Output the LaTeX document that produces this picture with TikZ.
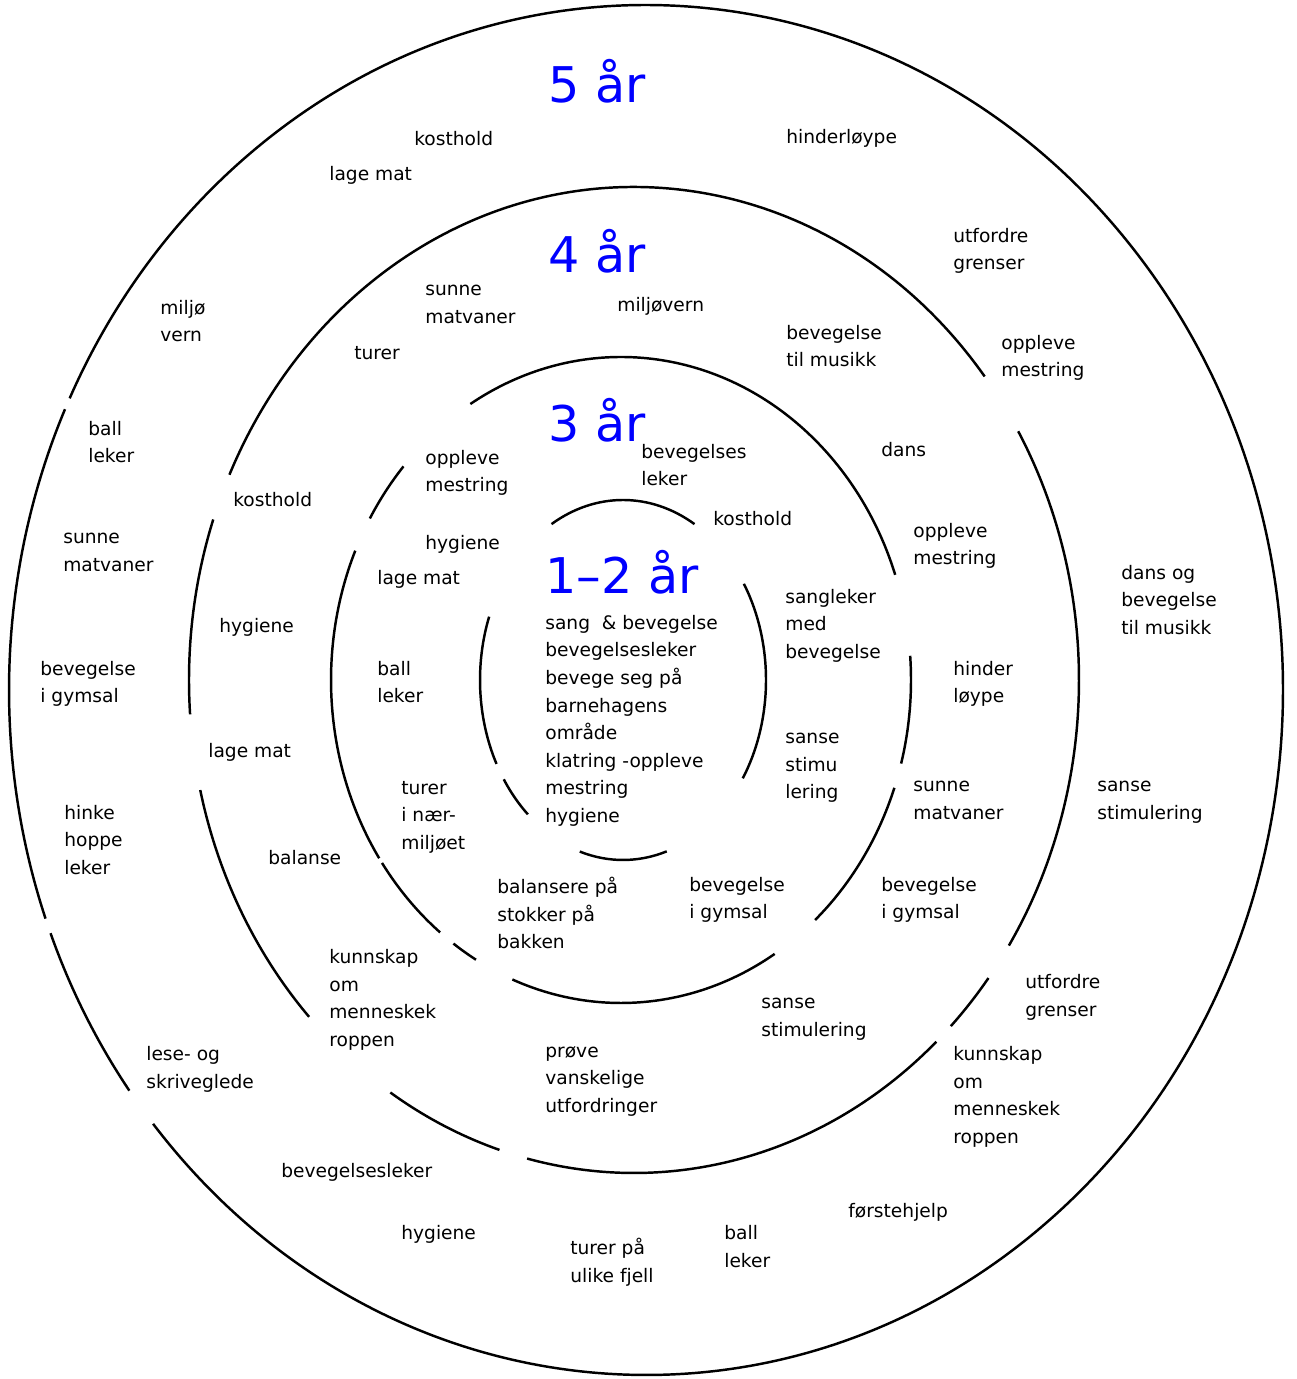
\documentclass[tikz,border=0pt]{standalone}
\usepackage{fontspec}
\setmainfont{DejaVu Sans}
\usepackage{tikz}
\usepackage{xcolor}

\begin{document}
\begin{tikzpicture}[x=0.2mm,y=0.2mm,
  ring/.style={line width=1.4pt},
  lbl/.style={anchor=north west, inner sep=0pt, align=left,
    font=\fontsize{10.6}{15.65}\selectfont,
    execute at begin node={\rule{0pt}{11pt}}},
  age/.style={anchor=base west, inner sep=0pt, blue,
    font=\fontsize{28}{34}\selectfont}]
\useasboundingbox (0,0) rectangle (1296,1379);
\fill [white] (0,0) rectangle (1296,1379);

% centres of the rings
\coordinate (c5) at (646,689);
\coordinate (c4) at (634,699);
\coordinate (c3) at (621,699);
\coordinate (c1) at (623,699);

% 5 aar
\draw [ring] (c5) ++(219.3:637 and 685) arc[start angle=219.3, end angle=514.8, x radius=637, y radius=685];
\draw [ring] (c5) ++(155.8:637 and 685) arc[start angle=155.8, end angle=199.5, x radius=637, y radius=685];
\draw [ring] (c5) ++(200.8:637 and 685) arc[start angle=200.8, end angle=215.8, x radius=637, y radius=685];
% 4 aar
\draw [ring] (c4) ++(38:445 and 493) arc[start angle=38, end angle=155.4, x radius=445, y radius=493];
\draw [ring] (c4) ++(161:445 and 493) arc[start angle=161, end angle=184, x radius=445, y radius=493];
\draw [ring] (c4) ++(192.9:445 and 493) arc[start angle=192.9, end angle=223.1, x radius=445, y radius=493];
\draw [ring] (c4) ++(236.8:445 and 493) arc[start angle=236.8, end angle=252.4, x radius=445, y radius=493];
\draw [ring] (c4) ++(256.1:445 and 493) arc[start angle=256.1, end angle=312.8, x radius=445, y radius=493];
\draw [ring] (c4) ++(315.4:445 and 493) arc[start angle=315.4, end angle=322.8, x radius=445, y radius=493];
\draw [ring] (c4) ++(327.4:445 and 493) arc[start angle=327.4, end angle=390.3, x radius=445, y radius=493];
% 3 aar
\draw [ring] (c3) ++(19:290 and 323) arc[start angle=19, end angle=121.3, x radius=290, y radius=323];
\draw [ring] (c3) ++(138.6:290 and 323) arc[start angle=138.6, end angle=150, x radius=290, y radius=323];
\draw [ring] (c3) ++(156.4:290 and 323) arc[start angle=156.4, end angle=213.5, x radius=290, y radius=323];
\draw [ring] (c3) ++(214.5:290 and 323) arc[start angle=214.5, end angle=231.4, x radius=290, y radius=323];
\draw [ring] (c3) ++(234.7:290 and 323) arc[start angle=234.7, end angle=240, x radius=290, y radius=323];
\draw [ring] (c3) ++(248:290 and 323) arc[start angle=248, end angle=302, x radius=290, y radius=323];
\draw [ring] (c3) ++(312:290 and 323) arc[start angle=312, end angle=340.5, x radius=290, y radius=323];
\draw [ring] (c3) ++(345:290 and 323) arc[start angle=345, end angle=364.3, x radius=290, y radius=323];
% 1-2 aar
\draw [ring] (c1) ++(60:143 and 180) arc[start angle=60, end angle=120, x radius=143, y radius=180];
\draw [ring] (c1) ++(159.4:143 and 180) arc[start angle=159.4, end angle=207.8, x radius=143, y radius=180];
\draw [ring] (c1) ++(213.5:143 and 180) arc[start angle=213.5, end angle=228.3, x radius=143, y radius=180];
\draw [ring] (c1) ++(252.4:143 and 180) arc[start angle=252.4, end angle=287.8, x radius=143, y radius=180];
\draw [ring] (c1) ++(326.9:143 and 180) arc[start angle=326.9, end angle=392.3, x radius=143, y radius=180];

% titles
\node [age] (t5) at (548,1276) {5 år};
\node [age] (t4) at (548,1106) {4 år};
\node [age] (t3) at (548,937) {3 år};
\node [age] (t1) at (545,785) {1–2 år};

% 5 aar ring
\node [lbl] (a1) at (414,1253) {kosthold};
\node [lbl] (a2) at (329,1218) {lage mat};
\node [lbl] (a3) at (786,1255) {hinderløype};
\node [lbl] (a4) at (953,1151) {utfordre\\grenser};
\node [lbl] (a5) at (160,1079) {miljø\\vern};
\node [lbl] (a6) at (1001,1044) {oppleve\\mestring};
\node [lbl] (a7) at (88,958) {ball\\leker};
\node [lbl] (a8) at (63,846) {sunne\\matvaner};
\node [lbl] (a9) at (1121,814) {dans og\\bevegelse\\til musikk};
\node [lbl] (a10) at (40,718) {bevegelse\\i gymsal};
\node [lbl] (a11) at (1097,598) {sanse\\stimulering};
\node [lbl] (a12) at (64,574) {hinke\\hoppe\\leker};
\node [lbl] (a13) at (1025,405) {utfordre\\grenser};
\node [lbl] (a14) at (953,333) {kunnskap\\om\\menneskek\\roppen};
\node [lbl] (a15) at (146,333) {lese- og\\skriveglede};
\node [lbl] (a16) at (281,221) {bevegelsesleker};
\node [lbl] (a17) at (848,181) {førstehjelp};
\node [lbl] (a18) at (401,159) {hygiene};
\node [lbl] (a19) at (570,141) {turer på\\ulike fjell};
\node [lbl] (a20) at (724,154) {ball\\leker};

% 4 aar ring
\node [lbl] (b1) at (425,1094) {sunne\\matvaner};
\node [lbl] (b2) at (617,1087) {miljøvern};
\node [lbl] (b3) at (786,1054) {bevegelse\\til musikk};
\node [lbl] (b4) at (354,1039) {turer};
\node [lbl] (b5) at (881,942) {dans};
\node [lbl] (b6) at (233,892) {kosthold};
\node [lbl] (b7) at (913,856) {oppleve\\mestring};
\node [lbl] (b8) at (219,766) {hygiene};
\node [lbl] (b9) at (953,718) {hinder\\løype};
\node [lbl] (b10) at (208,641) {lage mat};
\node [lbl] (b11) at (913,598) {sunne\\matvaner};
\node [lbl] (b12) at (268,534) {balanse};
\node [lbl] (b13) at (881,502) {bevegelse\\i gymsal};
\node [lbl] (b14) at (329,430) {kunnskap\\om\\menneskek\\roppen};
\node [lbl] (b15) at (761,381) {sanse\\stimulering};
\node [lbl] (b16) at (545,333) {prøve\\vanskelige\\utfordringer};

% 3 aar ring
\node [lbl] (c1t) at (641,935) {bevegelses\\leker};
\node [lbl] (c2t) at (425,929) {oppleve\\mestring};
\node [lbl] (c3t) at (713,873) {kosthold};
\node [lbl] (c4t) at (425,849) {hygiene};
\node [lbl] (c5t) at (377,814) {lage mat};
\node [lbl] (c6t) at (785,790) {sangleker\\med\\bevegelse};
\node [lbl] (c7t) at (377,718) {ball\\leker};
\node [lbl] (c8t) at (785,646) {sanse\\stimu\\lering};
\node [lbl] (c9t) at (401,598) {turer\\i nær-\\miljøet};
\node [lbl] (c10t) at (497,502) {balansere på\\stokker på\\bakken};
\node [lbl] (c11t) at (689,502) {bevegelse\\i gymsal};

% 1-2 aar
\node [lbl] (d1) at (545,764) {sang~~\& bevegelse\\bevegelsesleker\\bevege seg på\\barnehagens\\område\\klatring -oppleve\\mestring\\hygiene};
\end{tikzpicture}
\end{document}
